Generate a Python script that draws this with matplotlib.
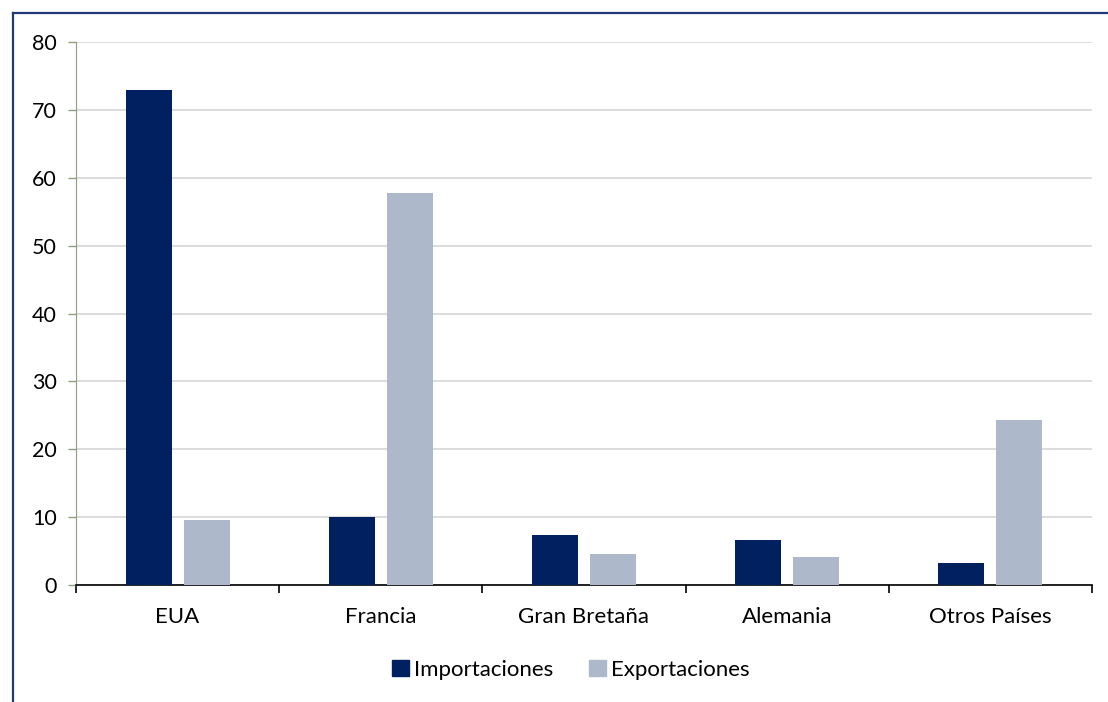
import numpy as np
import matplotlib
matplotlib.use("Agg")
import matplotlib.pyplot as plt
from matplotlib.lines import Line2D
from matplotlib.patches import Patch

plt.rcParams["font.family"] = ["Lato", "DejaVu Sans"]

# datos
paises = ["EUA", "Francia", "Gran Bretaña", "Alemania", "Otros Países"]
importaciones = [72.9, 10.0, 7.3, 6.6, 3.2]
exportaciones = [9.6, 57.7, 4.6, 4.1, 24.3]
yticks = [0, 10, 20, 30, 40, 50, 60, 70, 80]

c_imp = "#002060"
c_exp = "#ADB9CA"

fig = plt.figure(figsize=(11.08, 7.02), dpi=100)
ax = fig.add_axes([76 / 1108, 1 - 585 / 702, (1092 - 76) / 1108, (585 - 42) / 702])

x = np.arange(len(paises))
w = 0.226
off = 0.143
ax.bar(x - off, importaciones, w, color=c_imp, label="Importaciones", zorder=3)
ax.bar(x + off, exportaciones, w, color=c_exp, label="Exportaciones", zorder=3)

ax.set_xlim(-0.5, len(paises) - 0.5)
ax.set_ylim(0, 80)
ax.set_yticks(yticks)
ax.yaxis.grid(True, color="#D9D9D9", linewidth=1.3, zorder=0)
ax.set_axisbelow(True)

# eje x: ticks en los limites entre categorias
ax.set_xticks(np.arange(-0.5, len(paises), 1.0))
ax.set_xticklabels([])
ax.set_xticks(x, minor=True)
ax.set_xticklabels(paises, minor=True, fontsize=16)
ax.tick_params(axis="x", which="major", direction="out", length=6, width=1.2, color="black")
ax.tick_params(axis="x", which="minor", length=0, pad=16)
ax.tick_params(axis="y", direction="out", length=6, width=1, color="#8FA07E", labelsize=15.5, pad=8)

for s in ["top", "right"]:
    ax.spines[s].set_visible(False)
ax.spines["left"].set_color("#8FA07E")
ax.spines["bottom"].set_color("black")
ax.spines["bottom"].set_linewidth(1.2)

handles = [Patch(color=c_imp), Patch(color=c_exp)]
fig.legend(handles, ["Importaciones", "Exportaciones"], loc="center",
           bbox_to_anchor=(571 / 1108, 1 - 670 / 702), ncol=2, frameon=False,
           fontsize=16, handlelength=0.75, handleheight=0.75, handletextpad=0.25,
           columnspacing=1.6)

# marco del grafico
fig.add_artist(Line2D([12.5 / 1108, 1], [1 - 12.5 / 702, 1 - 12.5 / 702],
                      color="#1F3A75", linewidth=1.6))
fig.add_artist(Line2D([12.5 / 1108, 12.5 / 1108], [0, 1 - 12.5 / 702],
                      color="#1F3A75", linewidth=1.6))

fig.savefig("out.png", dpi=100)
